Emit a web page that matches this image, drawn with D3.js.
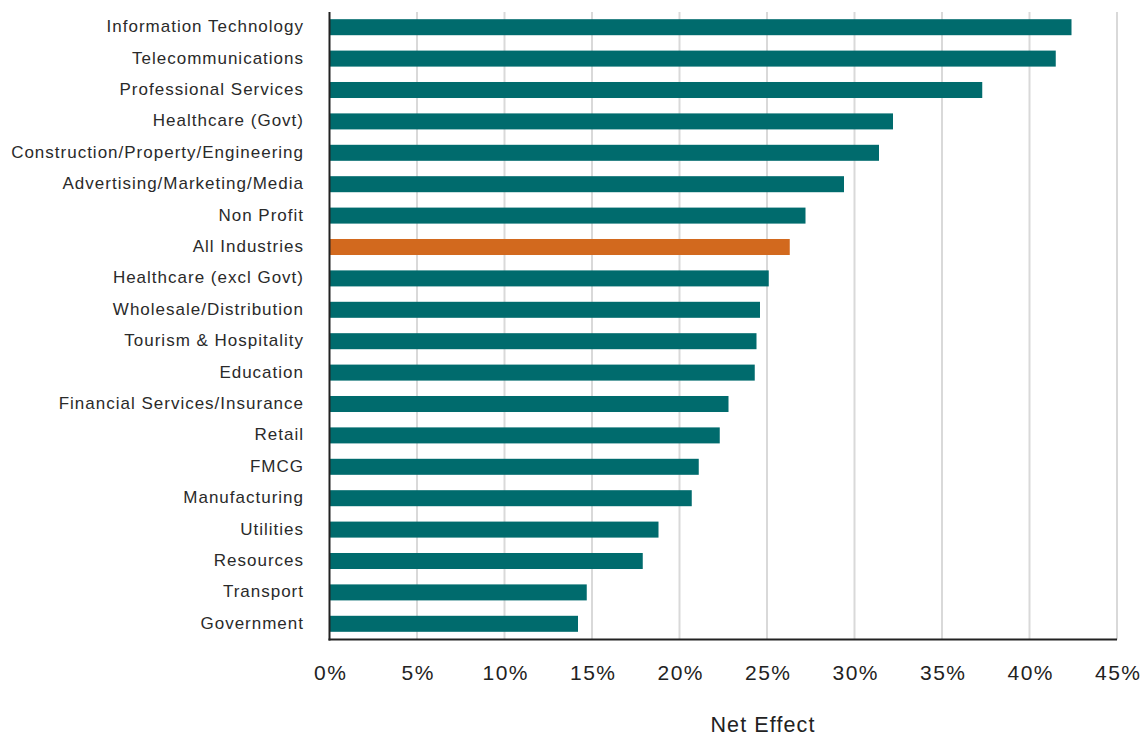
<!DOCTYPE html>
<html>
<head>
<meta charset="utf-8">
<script src="https://cdn.jsdelivr.net/npm/d3@7"></script>
<style>
  body { margin: 0; background: #fff; }
  svg { display: block; font-family: "Liberation Sans", Arial, Helvetica, sans-serif; }
</style>
</head>
<body>
<svg id="chart" width="1144" height="736"></svg>
<script>
// Industry categories, top to bottom
const industries = [
  "Information Technology", "Telecommunications", "Professional Services",
  "Healthcare (Govt)", "Construction/Property/Engineering", "Advertising/Marketing/Media",
  "Non Profit", "All Industries", "Healthcare (excl Govt)", "Wholesale/Distribution",
  "Tourism & Hospitality", "Education", "Financial Services/Insurance", "Retail",
  "FMCG", "Manufacturing", "Utilities", "Resources", "Transport", "Government"
];
// Net effect per industry (%)
const netEffect = [
  42.4, 41.5, 37.3, 32.2, 31.4, 29.4, 27.2, 26.3, 25.1, 24.6,
  24.4, 24.3, 22.8, 22.3, 21.1, 20.7, 18.8, 17.9, 14.7, 14.2
];
// Axis ticks (%)
const tickValues = [0, 5, 10, 15, 20, 25, 30, 35, 40, 45];
const highlight = "All Industries";

const data = industries.map((name, i) => ({ name, value: netEffect[i] }));

const svg = d3.select("#chart");
const plot = { left: 329.5, right: 1117, top: 11.5, bottom: 639.5 };

const x = d3.scaleLinear().domain([0, 45]).range([plot.left, plot.right]);
const y = d3.scaleBand().domain(industries).range([plot.top, plot.bottom])
  .paddingInner(0.49).paddingOuter(0.245);

// Vertical gridlines
svg.append("g").selectAll("line")
  .data(tickValues.filter(d => d > 0))
  .join("line")
  .attr("x1", d => x(d)).attr("x2", d => x(d))
  .attr("y1", 12).attr("y2", plot.bottom)
  .attr("stroke", "#d9d9d9").attr("stroke-width", 2);

// Bars
svg.append("g").selectAll("rect")
  .data(data)
  .join("rect")
  .attr("x", x(0))
  .attr("y", d => y(d.name))
  .attr("width", d => x(d.value) - x(0))
  .attr("height", y.bandwidth())
  .attr("fill", d => d.name === highlight ? "#d2691e" : "#006b6d");

// Category axis
const yAxis = svg.append("g")
  .attr("transform", `translate(${plot.left},0)`)
  .call(d3.axisLeft(y).tickSize(0).tickPadding(25.5));
yAxis.select(".domain").remove();
yAxis.selectAll("text")
  .attr("font-size", 17).attr("fill", "#2a2a2a")
  .attr("letter-spacing", "1px")
  .attr("dy", "0.29em")
  .attr("font-family", "'Liberation Sans', Arial, sans-serif");

// Value axis
const xAxis = svg.append("g")
  .attr("transform", `translate(0,${plot.bottom})`)
  .call(d3.axisBottom(x).tickValues(tickValues).tickSize(0).tickPadding(0)
    .tickFormat(d => d + "%"));
xAxis.select(".domain").remove();
xAxis.selectAll("text")
  .attr("y", 40.5).attr("dy", null)
  .attr("dx", "0.75px")
  .attr("font-size", 21).attr("fill", "#222")
  .attr("letter-spacing", "1.5px")
  .attr("font-family", "'Liberation Sans', Arial, sans-serif");

// Axis lines
svg.append("line")
  .attr("x1", plot.left).attr("x2", plot.left).attr("y1", 12).attr("y2", plot.bottom + 1)
  .attr("stroke", "#222").attr("stroke-width", 2);
svg.append("line")
  .attr("x1", plot.left - 1).attr("x2", plot.right).attr("y1", plot.bottom).attr("y2", plot.bottom)
  .attr("stroke", "#222").attr("stroke-width", 2);

// Axis title
svg.append("text")
  .attr("x", 763).attr("y", 731.5)
  .attr("text-anchor", "middle")
  .attr("font-size", 21.5).attr("fill", "#222")
  .attr("letter-spacing", "1.1px")
  .text("Net Effect");
</script>
</body>
</html>
